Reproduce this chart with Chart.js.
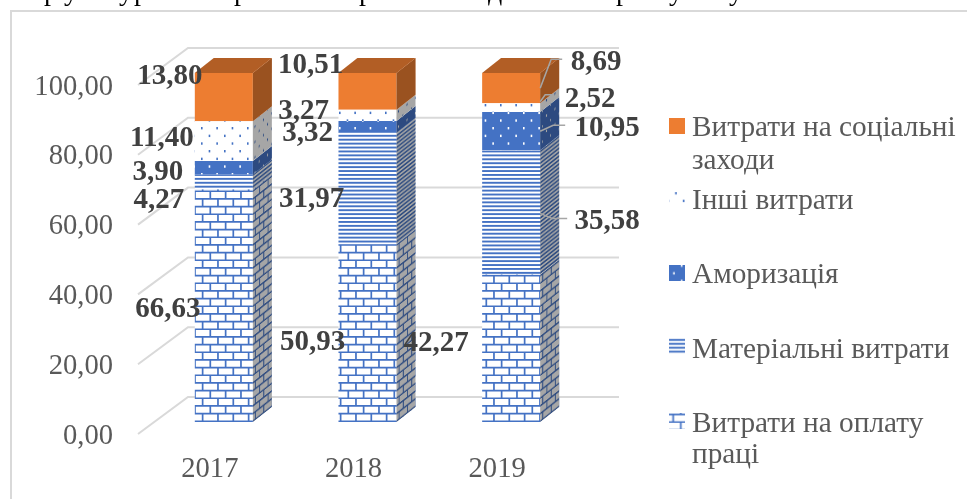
<!DOCTYPE html>
<html lang="uk">
<head>
<meta charset="utf-8">
<title>Структура операційних витрат</title>
<script src="https://cdn.jsdelivr.net/npm/chart.js@4"></script>
<style>
  html, body { margin: 0; padding: 0; background: #fff; }
  canvas { display: block; }
</style>
</head>
<body>
<canvas id="costChart" width="967" height="499"></canvas>
<script>
const years = ['2017', '2018', '2019'];
const wages = [66.63, 50.93, 42.27];
const materials = [4.27, 31.97, 35.58];
const amortization = [3.90, 3.32, 10.95];
const otherCosts = [11.40, 3.27, 2.52];
const socialCosts = [13.80, 10.51, 8.69];
const yTicks = [0, 20, 40, 60, 80, 100];

const seriesNames = ['Витрати на оплату праці', 'Матеріальні витрати', 'Аморизація', 'Інші витрати', 'Витрати на соціальні заходи'];

const SERIF = '"Liberation Serif", "Times New Roman", serif';
const BLUE = '#4472C4';
const ORANGE = '#ED7D31';
const GRID = '#D9D9D9';

// how far the columns stand behind the axis plane, and the column's own depth
const SHIFT = { x: 14, y: -14 };
const DEPTH = { x: 19, y: -15 };
const WALL = { x: 50, y: -37 };
// gridlines sit a little above the tick label baseline position
const GRID_LIFT = -2;

// label offsets from the middle of each segment's front face, by series then year
const labelOffsets = [
  [[-56, 4], [-55, 9], [-75, -5]],
  [[-65, 19], [-56, 11], [96, 9]],
  [[-66, 5], [-60, 7], [96, -3]],
  [[-62, -3], [-64, -4], [79, -8]],
  [[-54, -21], [-57, -26], [85, -26]]
];

// leader lines of the 2019 column, from the right edge of the segment
const leaders = [
  null,
  [[0, 1], [12, 6], [27, 6]],
  [[0, 0], [13, -6], [25, -6]],
  [[0, -6], [5, -13], [13, -13]],
  [[0, 0], [11, -29], [22, -29]]
];

// legend rows: text lines with baselines, swatch top, pattern phase inside the swatch
const legendRows = [
  { series: 4, lines: ['Витрати на соціальні', 'заходи'], baselines: [136, 169], swatch: 118, phase: [0, 0] },
  { series: 3, lines: ['Інші витрати'], baselines: [209], swatch: 190, phase: [12.8, 5] },
  { series: 2, lines: ['Аморизація'], baselines: [283], swatch: 265, phase: [10.8, 8.4] },
  { series: 1, lines: ['Матеріальні витрати'], baselines: [358], swatch: 338, phase: [0, 2.1] },
  { series: 0, lines: ['Витрати на оплату', 'праці'], baselines: [432, 463], swatch: 413, phase: [1.5, 9.77] }
];

// tails of the line of body text above the frame
const clippedLetters = [['р', 44], ['у', 64], ['у', 119], ['р', 134], ['р', 234], ['р', 359], ['д', 488], ['р', 616], ['у', 669], ['у', 729]];

function tile(size, draw) {
  const c = document.createElement('canvas');
  c.width = c.height = size;
  draw(c.getContext('2d'), size);
  return c.getContext('2d').createPattern(c, 'repeat');
}

const brickPattern = tile(46, (g, s) => {
  const p = s / 3;
  const offX = 12.3;
  const offY = 5.9;
  g.fillStyle = '#fff';
  g.fillRect(0, 0, s, s);
  g.strokeStyle = BLUE;
  g.lineWidth = 1.7;
  for (let r = -1; r < 7; r++) {
    const y = r * p / 2 + offY;
    g.beginPath();
    g.moveTo(0, y);
    g.lineTo(s, y);
    for (let k = -1; k < 4; k++) {
      const x = k * p + offX + (r & 1 ? p / 2 : 0);
      g.moveTo(x, y);
      g.lineTo(x, y + p / 2);
    }
    g.stroke();
  }
});

const stripePattern = tile(47, (g, s) => {
  g.fillStyle = '#fff';
  g.fillRect(0, 0, s, s);
  g.fillStyle = BLUE;
  for (let i = 0; i < 12; i++) g.fillRect(0, i * s / 12, s, 1.9);
});

function dotted(back, dot) {
  return tile(46, (g, s) => {
    const p = s / 3;
    g.fillStyle = back;
    g.fillRect(0, 0, s, s);
    g.fillStyle = dot;
    for (let r = 0; r < 6; r++) {
      for (let k = 0; k < 3; k++) {
        g.fillRect(k * p + (r % 2 ? p / 2 : 0) + 3, r * p / 2 + 3, 1.6, 2.4);
      }
    }
  });
}

const seriesFills = [brickPattern, stripePattern, dotted(BLUE, '#fff'), dotted('#fff', BLUE), ORANGE];

function polygon(ctx, pts) {
  ctx.beginPath();
  pts.forEach((p, i) => (i ? ctx.lineTo(p[0], p[1]) : ctx.moveTo(p[0], p[1])));
  ctx.closePath();
}

function shade(ctx, pts, tone) {
  ctx.save();
  ctx.globalCompositeOperation = 'multiply';
  ctx.fillStyle = tone;
  polygon(ctx, pts);
  ctx.fill();
  ctx.restore();
}

// page frame and the text cut off above it
const pageBackdrop = {
  id: 'pageBackdrop',
  beforeDraw(chart) {
    const ctx = chart.ctx;
    ctx.save();
    ctx.fillStyle = '#fff';
    ctx.fillRect(0, 0, chart.width, chart.height);
    ctx.strokeStyle = GRID;
    ctx.lineWidth = 2;
    ctx.beginPath();
    ctx.moveTo(11, chart.height);
    ctx.lineTo(11, 11);
    ctx.lineTo(chart.width, 11);
    ctx.stroke();
    ctx.fillStyle = '#000';
    ctx.font = '28px ' + SERIF;
    ctx.textAlign = 'left';
    ctx.textBaseline = 'alphabetic';
    clippedLetters.forEach(([ch, x]) => ctx.fillText(ch, x, 0));
    ctx.restore();
  }
};

// gridlines run along the side wall and then across the back wall
const wallGrid = {
  id: 'wallGrid',
  beforeDatasetsDraw(chart) {
    const { ctx, scales, chartArea } = chart;
    ctx.save();
    ctx.strokeStyle = GRID;
    ctx.lineWidth = 2;
    yTicks.forEach((v) => {
      const y = scales.y.getPixelForValue(v) + GRID_LIFT;
      ctx.beginPath();
      ctx.moveTo(chartArea.left, y);
      ctx.lineTo(chartArea.left + WALL.x, y + WALL.y);
      ctx.lineTo(chartArea.right + WALL.x, y + WALL.y);
      ctx.stroke();
    });
    ctx.restore();
  }
};

// pushes the columns back from the axis plane and adds side and top faces
const columnDepth = {
  id: 'columnDepth',
  beforeDatasetsDraw(chart) {
    chart.ctx.save();
    chart.ctx.translate(SHIFT.x, SHIFT.y);
  },
  afterDatasetsDraw(chart) {
    const ctx = chart.ctx;
    const slope = DEPTH.y / DEPTH.x;
    const squeeze = 0.55;
    chart.data.datasets.forEach((ds, d) => {
      chart.getDatasetMeta(d).data.forEach((bar) => {
        const { x, y, base, width } = bar.getProps(['x', 'y', 'base', 'width'], true);
        const right = x + width / 2;
        const left = x - width / 2;
        const side = [[right, y], [right + DEPTH.x, y + DEPTH.y], [right + DEPTH.x, base + DEPTH.y], [right, base]];

        ctx.save();
        polygon(ctx, side);
        ctx.clip();
        ctx.transform(squeeze, slope * squeeze, 0, 1, right, 0);
        ctx.fillStyle = ds.backgroundColor;
        ctx.fillRect(-2, 0, DEPTH.x / squeeze + 4, chart.height);
        ctx.restore();
        shade(ctx, side, '#A6A6A6');

        if (d === chart.data.datasets.length - 1) {
          const top = [[left, y], [left + DEPTH.x, y + DEPTH.y], [right + DEPTH.x, y + DEPTH.y], [right, y]];
          ctx.fillStyle = ds.backgroundColor;
          polygon(ctx, top);
          ctx.fill();
          shade(ctx, top, '#C0C0C0');
        }
      });
    });
    ctx.restore();
  }
};

const valueLabels = {
  id: 'valueLabels',
  afterDraw(chart) {
    const ctx = chart.ctx;
    ctx.save();
    ctx.font = 'bold 29px ' + SERIF;
    ctx.textAlign = 'center';
    ctx.textBaseline = 'middle';
    chart.data.datasets.forEach((ds, d) => {
      chart.getDatasetMeta(d).data.forEach((bar, i) => {
        const { x, y, base, width } = bar.getProps(['x', 'y', 'base', 'width'], true);
        const cx = x + SHIFT.x;
        const cy = (y + base) / 2 + SHIFT.y;
        if (i === 2 && leaders[d]) {
          ctx.strokeStyle = '#A6A6A6';
          ctx.lineWidth = 1.5;
          ctx.beginPath();
          leaders[d].forEach(([dx, dy], k) => {
            const px = cx + width / 2 + dx;
            const py = cy + dy;
            if (k) ctx.lineTo(px, py);
            else ctx.moveTo(px, py);
          });
          ctx.stroke();
        }
        const [ox, oy] = labelOffsets[d][i];
        ctx.fillStyle = '#404040';
        ctx.fillText(ds.data[i].toFixed(2).replace('.', ','), cx + ox, cy + oy);
      });
    });
    ctx.restore();
  }
};

const sideLegend = {
  id: 'sideLegend',
  afterDraw(chart) {
    const ctx = chart.ctx;
    ctx.save();
    ctx.textAlign = 'left';
    ctx.textBaseline = 'alphabetic';
    legendRows.forEach((row) => {
      const [px, py] = row.phase;
      ctx.save();
      ctx.translate(px, py);
      ctx.fillStyle = chart.data.datasets[row.series].backgroundColor;
      ctx.fillRect(669 - px, row.swatch - py, 16, 16);
      ctx.restore();
      ctx.fillStyle = '#595959';
      ctx.font = '29.3px ' + SERIF;
      row.lines.forEach((line, k) => ctx.fillText(line, 692, row.baselines[k]));
    });
    ctx.restore();
  }
};

const seriesValues = [wages, materials, amortization, otherCosts, socialCosts];

new Chart(document.getElementById('costChart'), {
  type: 'bar',
  data: {
    labels: years,
    datasets: seriesValues.map((values, i) => ({
      label: seriesNames[i],
      data: values,
      backgroundColor: seriesFills[i],
      borderWidth: 0,
      categoryPercentage: 1,
      barPercentage: 0.404,
      clip: false
    }))
  },
  options: {
    responsive: false,
    animation: false,
    layout: { padding: { top: 87, right: 398, left: 0, bottom: 0 } },
    plugins: {
      legend: { display: false },
      title: { display: false },
      tooltip: { enabled: false }
    },
    scales: {
      x: {
        stacked: true,
        grid: { display: false, drawTicks: false },
        border: { display: false },
        ticks: { color: '#595959', font: { family: SERIF, size: 28.6 }, padding: 16, maxRotation: 0 },
        afterFit(scale) { scale.height = 63; }
      },
      y: {
        stacked: true,
        min: 0,
        max: 100,
        grid: { display: false, drawTicks: false },
        border: { display: false },
        afterBuildTicks(scale) { scale.ticks = yTicks.map((value) => ({ value })); },
        ticks: {
          color: '#595959',
          font: { family: SERIF, size: 28.6 },
          padding: 25,
          callback: (v) => Number(v).toFixed(2).replace('.', ',')
        },
        afterFit(scale) { scale.width = 138; }
      }
    }
  },
  plugins: [pageBackdrop, wallGrid, columnDepth, valueLabels, sideLegend]
});
</script>
</body>
</html>
